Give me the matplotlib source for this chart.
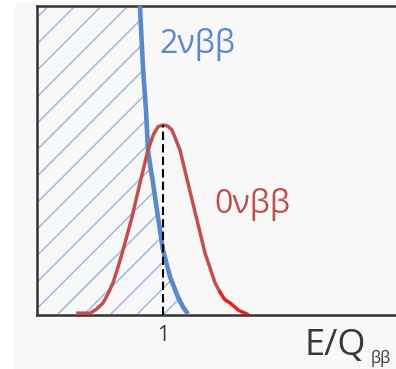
import matplotlib
matplotlib.use("Agg")
import matplotlib.pyplot as plt
from matplotlib.patches import Rectangle
import numpy as np

# curves (x in E/Q, y in arbitrary units, top of frame = 1)
red_x = [0.325, 0.421, 0.47, 0.524, 0.563, 0.603, 0.643, 0.683, 0.754, 0.817,
         0.881, 0.925, 0.962, 1.0, 1.035, 1.071, 1.135, 1.198, 1.270, 1.333,
         1.413, 1.452]
red_y = [0.006, 0.006, 0.018, 0.039, 0.068, 0.104, 0.155, 0.210, 0.317, 0.427,
         0.534, 0.585, 0.610, 0.615, 0.612, 0.599, 0.534, 0.427, 0.307, 0.201,
         0.104, 0.074]
tail_x = [1.452, 1.49, 1.532, 1.60, 1.667]
tail_y = [0.074, 0.050, 0.039, 0.015, 0.003]

blue_x = [0.817, 0.829, 0.841, 0.853, 0.865, 0.881, 0.900, 0.921, 0.960, 1.0,
          1.056, 1.119, 1.160, 1.198]
blue_y = [1.0, 0.90, 0.803, 0.73, 0.663, 0.534, 0.48, 0.427, 0.317, 0.210,
          0.123, 0.058, 0.025, 0.003]

peak_x = 1.0
peak_y = 0.615

BLUE = '#5a88c8'
RED = '#c0504d'
HATCH = '#9fb9e3'
DARK = '#333a40'

plt.rcParams['font.family'] = ['Open Sans', 'DejaVu Sans']

fig = plt.figure(figsize=(3.96, 3.69), dpi=100, facecolor='white')
fig.patches.append(Rectangle((15/396, 0), 1, 1 - 3/369, transform=fig.transFigure,
                             facecolor='#f8f8f8', edgecolor='none', zorder=-10))

ax = fig.add_axes([37/396, 54/369, 1 - 37/396, 309/369])
ax.set_facecolor('none')
ax.set_xlim(0, 359/126)
ax.set_ylim(0, 1)

# hatched region left of the 2vbb curve
poly = ax.fill_betweenx(blue_y, 0, blue_x, facecolor='none', edgecolor='none')
clip = poly.get_paths()[0]
k = 309/126
for c in np.arange(0.159 - 14*0.21, 1.3, 0.21):
    ln, = ax.plot([c, c + k], [0, 1], color=HATCH, lw=1.1, zorder=1)
    ln.set_clip_path(clip, ax.transData)

ax.plot(blue_x, blue_y, color=BLUE, lw=3.3, zorder=3, solid_capstyle='butt')
ax.plot(red_x, red_y, color=RED, lw=2.5, zorder=4, solid_joinstyle='round')
ax.plot(tail_x, tail_y, color='#e8221a', lw=2.5, zorder=4, solid_joinstyle='round')
ax.plot([peak_x, peak_x], [0, peak_y], color='black', lw=1.5, ls=(0, (4, 2)), zorder=5)

for s in ['left', 'bottom', 'top']:
    ax.spines[s].set_color('#333333')
    ax.spines[s].set_linewidth(1.8)
ax.spines['right'].set_visible(False)

ax.set_yticks([])
ax.set_xticks([peak_x])
ax.set_xticklabels(['1'])
ax.tick_params(axis='x', length=0, pad=7, labelsize=15, labelcolor=DARK)

ax.text(0.97, 0.848, '2νββ', color=BLUE, fontsize=23, ha='left', va='baseline')
ax.text(1.405, 0.330, '0νββ', color=RED, fontsize=23, ha='left', va='baseline')
ax.text(2.12, -0.129, 'E/Q', color=DARK, fontsize=26, ha='left', va='baseline',
        clip_on=False)
ax.text(2.65, -0.155, 'ββ', color=DARK, fontsize=11.5, ha='left', va='baseline',
        clip_on=False)

fig.savefig('out.png', dpi=100, facecolor='white')
